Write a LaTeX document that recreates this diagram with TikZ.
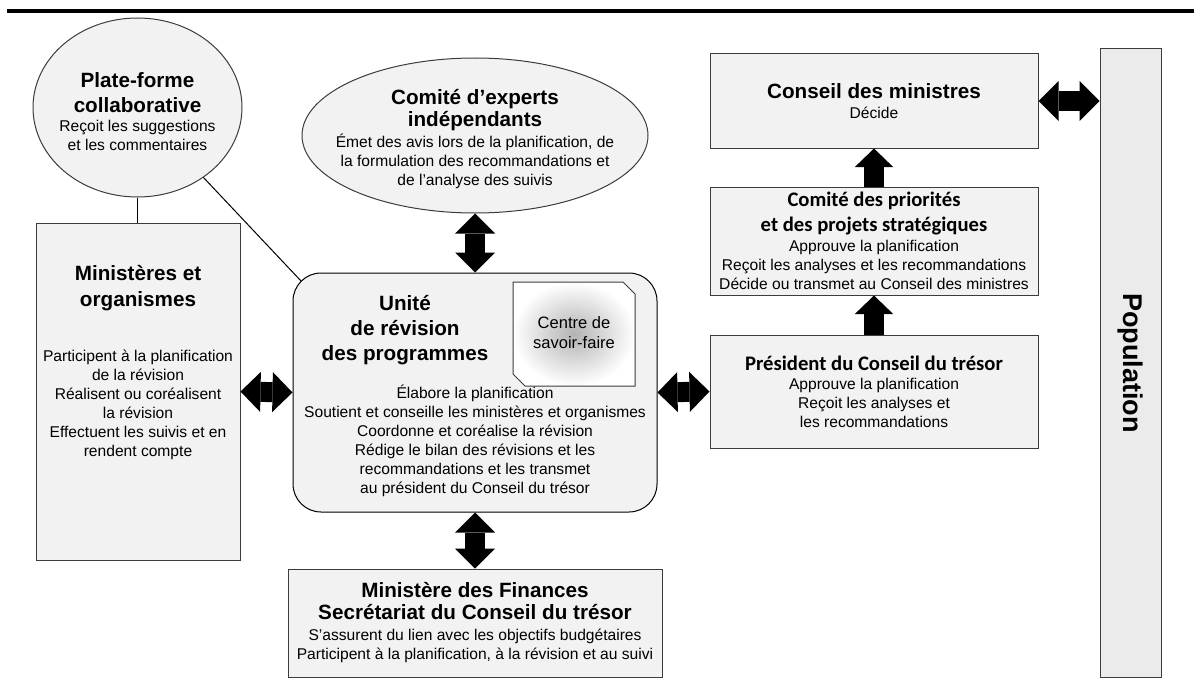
\documentclass[tikz,border=0pt]{standalone}
\usepackage{fontspec}
\setmainfont{Liberation Sans}
\newfontfamily\calfont{Carlito}
\usetikzlibrary{arrows.meta,positioning,shapes.geometric}
\definecolor{cFill}{RGB}{242,242,242}
\definecolor{cPop}{RGB}{235,235,235}
\definecolor{cEdge}{RGB}{60,60,60}
\newcommand\txfont{\fontsize{11.7}{14.25}\selectfont\lineskiplimit=-20pt\relax}
\newcommand\hdfont{\fontsize{15.5}{18.75}\selectfont\bfseries}
\newcommand\hdcal{\calfont\fontsize{15.5}{18.75}\selectfont\bfseries}

\begin{document}
\begin{tikzpicture}[x=0.75pt,y=-0.75pt,
  box/.style={draw=cEdge,fill=cFill,line width=0.75pt,inner sep=0pt,align=center,font=\txfont},
  bubble/.style={ellipse,draw=cEdge,fill=cFill,line width=0.75pt,inner sep=0pt},
  txt/.style={align=center,font=\txfont,inner sep=0pt},
  link/.style={line width=0.75pt},
  bigarrow/.style={line width=15pt,{Triangle[length=15pt,width=30pt,line width=0pt]}-{Triangle[length=15pt,width=30pt,line width=0pt]}},
  uparrow/.style={line width=15pt,-{Triangle[length=14pt,width=29pt,line width=0pt]}}]
  \useasboundingbox (0,0) rectangle (1194,692);
  \draw[line width=3pt] (7,11) -- (1194,11);

  % left column
  \node[bubble,minimum width=156.75pt,minimum height=134.25pt] (pf) at (137.5,107.5) {};
  \node[txt] (pf-t) at (137.5,112) {{\hdfont Plate-forme}\\[4.5pt]{\hdfont collaborative}\\Reçoit les suggestions\\et les commentaires};
  \node[box,minimum width=153pt,minimum height=252.75pt] (mo) at (138,391.5) {};
  \node[txt,anchor=north] (mo-t) at (138,265) {{\hdfont Ministères et}\\[5.5pt]{\hdfont organismes}\\[26.5pt]Participent à la planification\\de la révision\\Réalisent ou coréalisent\\la révision\\Effectuent les suivis et en\\rendent compte};

  % middle column
  \node[bubble,minimum width=259.5pt,minimum height=116.25pt] (ce) at (475,135.5) {};
  \node[txt] (ce-t) at (475,139) {{\hdfont Comité d’experts}\\[2.25pt]{\hdfont indépendants}\\[1.5pt]Émet des avis lors de la planification, de\\la formulation des recommandations et\\de l’analyse des suivis};
  \node[box,draw=black,rounded corners=21pt,minimum width=273pt,minimum height=179.25pt] (urp) at (475,392.5) {};
  \node[txt] (urp-t) at (405,330) {{\hdfont Unité}\\[4.5pt]{\hdfont de révision}\\[4.5pt]{\hdfont des programmes}};
  \node[txt] (urp-b) at (475,441) {Élabore la planification\\Soutient et conseille les ministères et organismes\\Coordonne et coréalise la révision\\Rédige le bilan des révisions et les\\recommandations et les transmet\\au président du Conseil du trésor};
  \shadedraw[inner color=gray!60,outer color=white,draw=cEdge,line width=0.75pt]
    (513,282) -- (623,282) -- (635,294) -- (635,386) -- (525,386) -- (513,374) -- cycle;
  \node[txt,font=\fontsize{12.4}{15}\selectfont] (csf) at (574,333) {Centre de\\savoir-faire};
  \node[box,minimum width=280.5pt,minimum height=81pt] (mf) at (475,623) {{\hdfont Ministère des Finances}\\[2.25pt]{\hdfont Secrétariat du Conseil du trésor}\\[1.5pt]S’assurent du lien avec les objectifs budgétaires\\Participent à la planification, à la révision et au suivi};

  % right column
  \node[box,minimum width=246pt,minimum height=70.5pt] (cm) at (874,101) {{\hdfont Conseil des ministres}\\[1pt]Décide};
  \node[box,minimum width=246pt,minimum height=81pt] (cp) at (874,241) {{\hdcal Comité des priorités}\\[4.5pt]{\hdcal et des projets stratégiques}\\[0.75pt]Approuve la planification\\Reçoit les analyses et les recommandations\\Décide ou transmet au Conseil des ministres};
  \node[box,minimum width=246pt,minimum height=84.75pt] (pct) at (874,391.5) {{\hdcal Président du Conseil du trésor}\\Approuve la planification\\Reçoit les analyses et\\les recommandations};
  \node[box,fill=cPop,minimum width=45.75pt,minimum height=471pt] (pop) at (1130.5,363) {};
  \node[rotate=-90,font=\fontsize{20.3}{24}\selectfont\bfseries] (pop-t) at (pop) {Population};

  % connectors
  \draw[link] (pf.south) -- (pf.south |- mo.north);
  \coordinate (urp-c) at ([shift={(8.8,8.8)}]urp.north west);
  \draw[link] (pf) -- (urp-c);
  \draw[bigarrow] (mo.east) -- (urp.west);
  \draw[bigarrow] (urp.east) -- (pct.west);
  \draw[bigarrow] (ce.south) -- (urp.north);
  \draw[bigarrow] (urp.south) -- (mf.north);
  \draw[uparrow] (pct.north) -- (cp.south);
  \draw[uparrow] (cp.north) -- (cm.south);
  \draw[bigarrow] (cm.east) -- (cm.east -| pop.west);
\end{tikzpicture}
\end{document}
